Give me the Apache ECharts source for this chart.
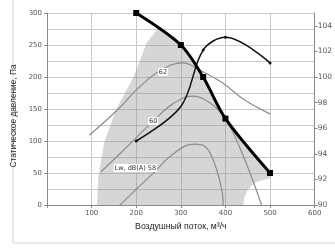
<!DOCTYPE html>
<html><head><meta charset="utf-8">
<script src="https://cdn.jsdelivr.net/npm/echarts@6/dist/echarts.min.js"></script>
<style>html,body{margin:0;padding:0;background:#fff}#c{width:335px;height:248px}</style>
</head><body><div id="c"></div>
<script>
// Fan curve (static pressure, Pa) – thick line with squares
const fanFlow = [200, 300, 350, 400, 500];
const fanPressure = [300, 250, 200, 135, 50];
// Sound power curve (dB, right axis)
const soundFlow = [200, 300, 350, 400, 500];
const soundDb = [95, 97.7, 102.1, 103.1, 101.1];
const soundMarker = [true, false, true, true, true];
// Iso-noise curves (Pa vs flow)
const iso62 = [[95,109],[157,148],[205,183],[256,211],[304,222],[342,211],[393,191],[443,164],[501,142]];
const iso60 = [[121,52],[172,86],[238,131],[282,158],[326,170],[360,162],[399,136],[439,78],[481,0]];
const iso58 = [[163,0],[168,3],[205,28],[243,53],[271,73],[309,92],[331,95],[355,91],[377,62],[393,19],[395,0]];
// Operating region boundary
const region = [[112,0],[115,44],[128,97],[154,148],[194,200],[223,253],[250,277],[300,250],[350,200],[400,135],[450,92],[500,50],[500,42],[470,36],[458,30],[448,21],[442,11],[440,0]];
// Labels
const isoLabels = [{text:'62', at:[260,208]}, {text:'60', at:[238,131]}, {text:'Lw, dB(A) 58', at:[198,58]}];

const chart = echarts.init(document.getElementById('c'), null, {renderer:'canvas'});
const gridColor = '#c8c8c8';
const axisColor = '#8a8a8a';
const tickFont = {fontFamily:'DejaVu Sans', fontSize:7, color:'#555'};
function mp(lbl){
  return {symbol:'rect', symbolSize:[1,1], silent:true,
    itemStyle:{color:'rgba(0,0,0,0)'},
    data:[{coord:lbl.at, label:{show:true, formatter:lbl.text, position:'inside', fontFamily:'DejaVu Sans', fontSize:6.5, color:'#333', backgroundColor:'#fff', padding:[1,1,0,1]}}]};
}
chart.setOption({
  animation:false,
  graphic:[{type:'rect', shape:{x:13, y:-5, width:340, height:248}, style:{fill:'none', stroke:'#d4d4d4', lineWidth:1}, z:-10}],
  grid:{left:47, right:16, top:13, bottom:43},
  xAxis:{type:'value', min:0, max:600, interval:100,
    name:'Воздушный поток, м³/ч', nameLocation:'middle', nameGap:16,
    nameTextStyle:{fontFamily:'Liberation Sans', fontSize:8.7, color:'#222'},
    axisLine:{show:true, lineStyle:{color:axisColor}}, axisTick:{show:true, length:3, lineStyle:{color:axisColor}},
    axisLabel:Object.assign({margin:5, formatter:v=>v===0?'':v}, tickFont),
    splitLine:{show:true, lineStyle:{color:gridColor, width:1}}},
  yAxis:[{type:'value', min:0, max:300, interval:50,
    name:'Статическое давление, Па', nameLocation:'middle', nameGap:22,
    nameTextStyle:{fontFamily:'Liberation Sans', fontSize:8.3, color:'#222', padding:[0,14,0,0]},
    axisLine:{show:true, lineStyle:{color:axisColor}}, axisTick:{show:true, length:3, lineStyle:{color:axisColor}},
    axisLabel:Object.assign({margin:5}, tickFont),
    splitLine:{show:true, lineStyle:{color:gridColor, width:1}},
    minorTick:{show:false, splitNumber:2}, minorSplitLine:{show:true, lineStyle:{color:gridColor, width:1}}},
   {type:'value', min:90, max:105, interval:2, position:'right',
    axisLine:{show:true, lineStyle:{color:axisColor}}, axisTick:{show:true, length:3, lineStyle:{color:axisColor}},
    axisLabel:Object.assign({margin:3, showMaxLabel:false}, tickFont, {fontSize:7.5}),
    splitLine:{show:false}}],
  series:[
    {type:'custom', z:1, silent:true, data:[region[0]],
     renderItem:(params, api)=>({type:'polygon', shape:{points:region.map(p=>api.coord(p))}, style:{fill:'rgba(140,140,140,0.36)'}})},
    {type:'line', z:3, data:iso62, smooth:0.4, symbol:'none', lineStyle:{color:'#8c8c8c', width:1.2}, markPoint:mp(isoLabels[0])},
    {type:'line', z:3, data:iso60, smooth:0.4, symbol:'none', lineStyle:{color:'#8c8c8c', width:1.2}, markPoint:mp(isoLabels[1])},
    {type:'line', z:3, data:iso58, smooth:0.4, symbol:'none', lineStyle:{color:'#8c8c8c', width:1.2}, markPoint:mp(isoLabels[2])},
    {type:'line', z:5, yAxisIndex:1, smooth:0.35,
     data:soundFlow.map((f,i)=>({value:[f,soundDb[i]], symbol:soundMarker[i]?'circle':'none'})),
     symbol:'circle', symbolSize:3, showAllSymbol:true, itemStyle:{color:'#111'}, lineStyle:{color:'#111', width:1.5}},
    {type:'line', z:6, data:fanFlow.map((f,i)=>[f,fanPressure[i]]), smooth:0.3,
     symbol:'rect', symbolSize:6, itemStyle:{color:'#000'}, lineStyle:{color:'#000', width:3}}
  ]
});
</script></body></html>
